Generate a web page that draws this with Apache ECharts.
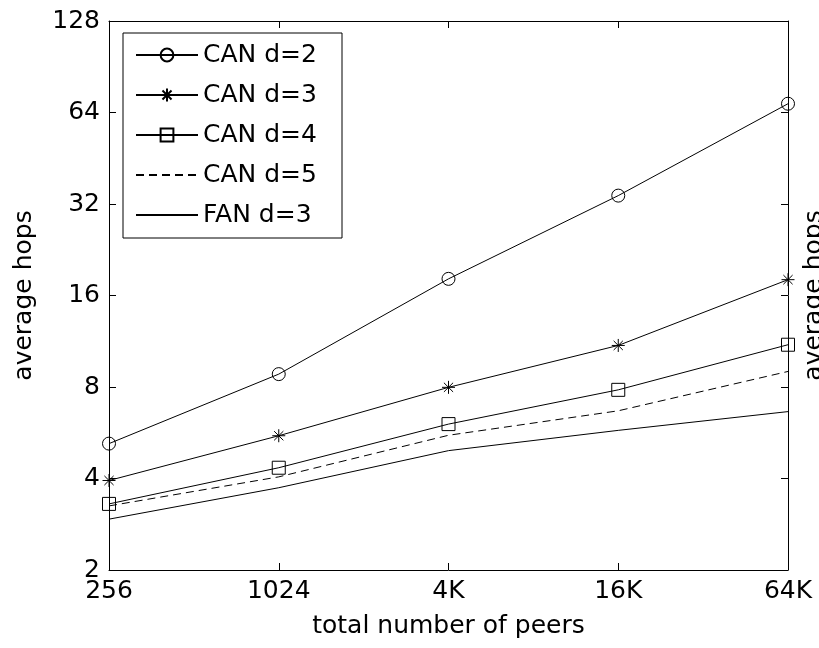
<!DOCTYPE html>
<html>
<head>
<meta charset="utf-8">
<script src="https://cdn.jsdelivr.net/npm/echarts@6/dist/echarts.min.js"></script>
<style>
html,body{margin:0;padding:0;background:#fff;}
#chart{width:819px;height:648px;}
</style>
</head>
<body>
<div id="chart"></div>
<script>
const categories = ['256', '1024', '4K', '16K', '64K'];
const canD2 = [5.21, 8.82, 18.15, 34.1, 68.4];
const canD3 = [3.94, 5.53, 7.98, 10.96, 18.04];
const canD4 = [3.30, 4.34, 6.04, 7.83, 11.02];
const canD5 = [3.25, 4.05, 5.55, 6.68, 9.0];
const fanD3 = [2.94, 3.73, 4.94, 5.76, 6.64];
const yTicks = [2, 4, 8, 16, 32, 64, 128];

const FONT = 'DejaVu Sans, sans-serif';
const FS = 25;
const starPath = 'path://M0,-10L0,10M-10,0L10,0M-7.07,-7.07L7.07,7.07M-7.07,7.07L7.07,-7.07';

const chart = echarts.init(document.getElementById('chart'), null, {renderer: 'canvas'});

function mkSeries(name, data, symbol, dashed) {
  return {
    name: name,
    type: 'line',
    data: data,
    symbol: symbol,
    symbolSize: 13,
    showSymbol: symbol !== 'none',
    color: '#000',
    lineStyle: {color: '#000', width: 1, type: dashed ? [8, 5] : 'solid'},
    itemStyle: {color: 'rgba(0,0,0,0)', borderColor: '#000', borderWidth: 1},
    emphasis: {disabled: true},
    animation: false,
    z: 3
  };
}

const hidden = {color: 'rgba(0,0,0,0)', borderColor: 'rgba(0,0,0,0)', borderWidth: 0};
const axisLineStyle = {show: true, lineStyle: {color: '#000', width: 1}};

chart.setOption({
  backgroundColor: '#fff',
  animation: false,
  grid: {left: 109, right: 31, top: 21, bottom: 78, containLabel: false, outerBoundsMode: 'none'},
  legend: {
    orient: 'vertical',
    left: 123,
    top: 33,
    backgroundColor: '#fff',
    borderColor: '#000',
    borderWidth: 1,
    borderRadius: 0,
    padding: [9, 21, 10, 12],
    itemWidth: 62,
    itemHeight: 16,
    itemGap: 14,
    textStyle: {fontFamily: FONT, fontSize: FS, color: '#000', lineHeight: 26, width: 118},
    data: [
      {name: 'CAN d=2'},
      {name: 'CAN d=3'},
      {name: 'CAN d=4'},
      {name: 'CAN d=5', itemStyle: hidden},
      {name: 'FAN d=3', itemStyle: hidden}
    ],
    selectedMode: false
  },
  xAxis: [{
    type: 'category',
    data: categories,
    boundaryGap: false,
    position: 'bottom',
    axisLine: axisLineStyle,
    axisTick: {show: true, inside: true, length: 7, lineStyle: {color: '#000'}},
    axisLabel: {fontFamily: FONT, fontSize: FS, color: '#000', margin: 9},
    splitLine: {show: false},
    name: 'total number of peers',
    nameLocation: 'middle',
    nameGap: 44,
    nameTextStyle: {fontFamily: FONT, fontSize: FS, color: '#000'}
  }, {
    type: 'category',
    data: categories,
    boundaryGap: false,
    position: 'top',
    axisLine: axisLineStyle,
    axisTick: {show: true, inside: true, length: 7, lineStyle: {color: '#000'}},
    axisLabel: {show: false},
    splitLine: {show: false}
  }],
  yAxis: [{
    type: 'log',
    logBase: 2,
    min: 2,
    max: 128,
    interval: 1,
    position: 'left',
    axisLine: axisLineStyle,
    axisTick: {show: true, inside: true, length: 7, lineStyle: {color: '#000'}},
    axisLabel: {fontFamily: FONT, fontSize: FS, color: '#000', margin: 9,
      formatter: function (v) { return String(Math.round(v)); }},
    splitLine: {show: false},
    name: 'average hops',
    nameLocation: 'middle',
    nameRotate: 90,
    nameGap: 72,
    nameTextStyle: {fontFamily: FONT, fontSize: FS, color: '#000'}
  }, {
    type: 'log',
    logBase: 2,
    min: 2,
    max: 128,
    interval: 1,
    position: 'right',
    axisLine: axisLineStyle,
    axisTick: {show: true, inside: true, length: 7, lineStyle: {color: '#000'}},
    axisLabel: {show: false},
    splitLine: {show: false},
    name: 'average hops',
    nameLocation: 'middle',
    nameRotate: 90,
    nameGap: 14,
    nameTextStyle: {fontFamily: FONT, fontSize: FS, color: '#000'}
  }],
  series: [
    mkSeries('CAN d=2', canD2, 'circle', false),
    mkSeries('CAN d=3', canD3, starPath, false),
    mkSeries('CAN d=4', canD4, 'rect', false),
    mkSeries('CAN d=5', canD5, 'none', true),
    mkSeries('FAN d=3', fanD3, 'none', false)
  ]
});
</script>
</body>
</html>
